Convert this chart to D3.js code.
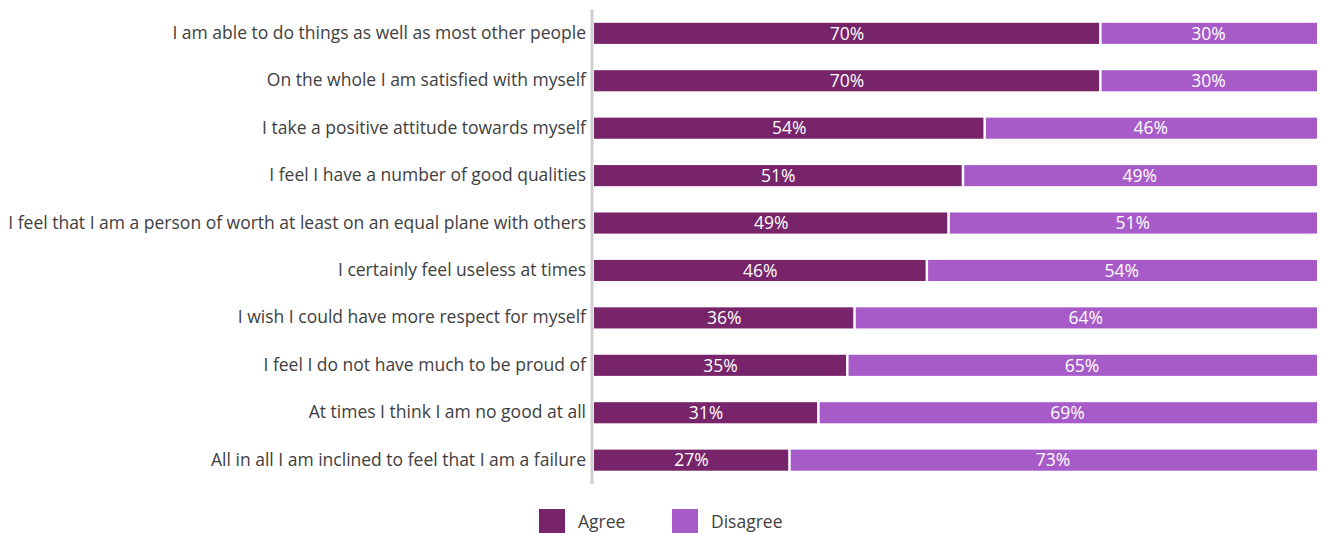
<!DOCTYPE html>
<html>
<head>
<meta charset="utf-8">
<script src="https://cdnjs.cloudflare.com/ajax/libs/d3/7.8.5/d3.min.js"></script>
<style>
  body { margin: 0; background: #fff; }
  svg text { font-family: "Open Sans", Lato, sans-serif; }
</style>
</head>
<body>
<svg id="chart" width="1321" height="533"></svg>
<script>
var categories = [
    'I am able to do things as well as most other people',
    'On the whole I am satisfied with myself',
    'I take a positive attitude towards myself',
    'I feel I have a number of good qualities',
    'I feel that I am a person of worth at least on an equal plane with others',
    'I certainly feel useless at times',
    'I wish I could have more respect for myself',
    'I feel I do not have much to be proud of',
    'At times I think I am no good at all',
    'All in all I am inclined to feel that I am a failure'
];
var agree = [70, 70, 54, 51, 49, 46, 36, 35, 31, 27];
var disagree = [30, 30, 46, 49, 51, 54, 64, 65, 69, 73];
var seriesNames = ['Agree', 'Disagree'];
var colors = ['#77246a', '#a75bc9'];

var svg = d3.select('#chart');
var plot = {left: 594, right: 1317, top: 9.5, bottom: 484};

var x = d3.scaleLinear().domain([0, 100]).range([plot.left, plot.right]);
var y = d3.scaleBand().domain(categories).range([plot.top, plot.bottom]).paddingInner(0.555).paddingOuter(0.28);

var rows = categories.map(function(c, i) {
    return {cat: c, values: [agree[i], disagree[i]]};
});

var stack = d3.stack().keys([0, 1]).value(function(d, k) { return d.values[k]; });
var layers = stack(rows);

var g = svg.append('g');

layers.forEach(function(layer, li) {
    g.selectAll('rect.s' + li)
        .data(layer)
        .enter()
        .append('rect')
        .attr('class', 's' + li)
        .attr('x', function(d) { return x(d[0]) + (li ? 1.5 : 0); })
        .attr('width', function(d) { return x(d[1]) - x(d[0]) - (li ? 1.5 : 1); })
        .attr('y', function(d) { return y(d.data.cat); })
        .attr('height', y.bandwidth())
        .attr('fill', colors[li]);

    g.selectAll('text.l' + li)
        .data(layer)
        .enter()
        .append('text')
        .attr('x', function(d) { return (x(d[0]) + x(d[1])) / 2; })
        .attr('y', function(d) { return y(d.data.cat) + y.bandwidth() / 2; })
        .attr('dy', '0.36em')
        .attr('text-anchor', 'middle')
        .attr('fill', '#fff')
        .style('font-size', '17.5px')
        .text(function(d) { return (d[1] - d[0]) + '%'; });
});

// category axis
var yAxis = d3.axisLeft(y).tickSize(0).tickPadding(6);
var gY = svg.append('g')
    .attr('transform', 'translate(' + (plot.left - 2) + ',0)')
    .call(yAxis);
gY.select('.domain').remove();
gY.selectAll('text')
    .attr('fill', '#404040')
    .style('font-size', '17.5px')
    .style('font-family', '"Open Sans", Lato, sans-serif');

svg.append('line')
    .attr('x1', plot.left - 2).attr('x2', plot.left - 2)
    .attr('y1', plot.top).attr('y2', plot.bottom)
    .attr('stroke', '#d0d0d0')
    .attr('stroke-width', 3);

// legend
var legendX = [539, 672];
var legend = svg.append('g');
seriesNames.forEach(function(name, i) {
    legend.append('rect')
        .attr('x', legendX[i]).attr('y', 509)
        .attr('width', 26).attr('height', 26)
        .attr('fill', colors[i]);
    legend.append('text')
        .attr('x', legendX[i] + 39).attr('y', 522)
        .attr('dy', '0.36em')
        .attr('fill', '#404040')
        .style('font-size', '17.5px')
        .text(name);
});
</script>
</body>
</html>
